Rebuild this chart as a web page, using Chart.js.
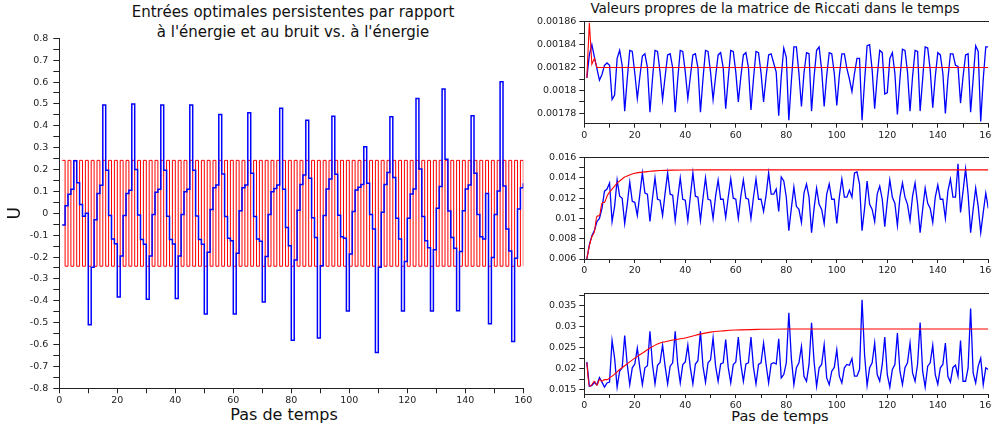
<!DOCTYPE html>
<html lang="fr">
<head>
<meta charset="utf-8">
<title>Entrées optimales et valeurs propres de Riccati</title>
<script src="https://cdn.jsdelivr.net/npm/chart.js@4.4.1/dist/chart.umd.min.js"></script>
<style>
  html, body { margin: 0; padding: 0; background: #fff; overflow: hidden; }
  body { width: 992px; height: 430px; position: relative; font-family: "DejaVu Sans", sans-serif; color: #111; }
  canvas { position: absolute; }
  .texte { position: absolute; text-align: center; white-space: nowrap; }
</style>
</head>
<body>
<div class="texte" style="left:93px; width:400px; top:2px; font-size:15px; line-height:20px;">Entrées optimales persistentes par rapport<br>à l'énergie et au bruit vs. à l'énergie</div>
<div class="texte" style="left:545px; width:460px; top:0px; font-size:13.5px; line-height:17px;">Valeurs propres de la matrice de Riccati dans le temps</div>
<div class="texte" style="left:184px; width:200px; top:405px; font-size:16px; line-height:20px;">Pas de temps</div>
<div class="texte" style="left:680px; width:200px; top:407px; font-size:14.5px; line-height:18px;">Pas de temps</div>

<canvas id="graphe-entrees" width="540" height="430" style="left:0; top:0;"></canvas>
<canvas id="graphe-haut" width="480" height="145" style="left:530px; top:0;"></canvas>
<canvas id="graphe-milieu" width="480" height="135" style="left:530px; top:145px;"></canvas>
<canvas id="graphe-bas" width="480" height="150" style="left:530px; top:280px;"></canvas>

<script>
// pas de temps 1..160
const pas = Array.from({ length: 160 }, (_, i) => i + 1);

// entrée optimale (énergie et bruit) - bleu
const entreeBruit = [
  -0.053, 0.035, 0.087, 0.11, 0.24, 0.14, 0.04, -0.014, 0.0, -0.51,
  -0.247, -0.03, 0.09, 0.128, 0.495, 0.197, -0.01, -0.117, -0.139, -0.383,
  -0.195, -0.01, 0.09, 0.105, 0.5, 0.2, -0.008, -0.12, -0.142, -0.393,
  -0.195, -0.005, 0.096, 0.11, 0.495, 0.197, -0.014, -0.12, -0.14, -0.39,
  -0.195, -0.005, 0.098, 0.11, 0.495, 0.197, -0.012, -0.12, -0.142, -0.46,
  -0.178, 0.017, 0.117, 0.129, 0.452, 0.18, -0.015, -0.114, -0.125, -0.46,
  -0.183, 0.012, 0.117, 0.129, 0.46, 0.183, -0.015, -0.117, -0.128, -0.405,
  -0.198, -0.005, 0.099, 0.113, 0.129, 0.48, 0.11, -0.065, -0.148, -0.58,
  -0.213, 0.014, 0.132, 0.175, 0.425, 0.16, -0.02, -0.111, -0.57, -0.24,
  -0.01, 0.111, 0.157, 0.444, 0.178, -0.009, -0.107, -0.114, -0.447, -0.186,
  0.008, 0.107, 0.119, 0.132, 0.304, 0.137, -0.005, -0.072, -0.636, -0.247,
  0.005, 0.132, 0.186, 0.441, 0.164, -0.023, -0.117, -0.447, -0.22, -0.023,
  0.088, 0.111, 0.525, 0.202, -0.015, -0.126, -0.157, -0.447, -0.167, 0.023,
  0.122, 0.568, 0.247, 0.011, -0.111, -0.16, -0.446, -0.175, 0.012, 0.111,
  0.129, 0.446, 0.183, -0.005, -0.107, -0.117, 0.091, -0.505, -0.202, -0.005,
  0.102, 0.601, 0.125, -0.072, -0.172, -0.586, -0.205, 0.02, 0.117, 0.137
];

// entrée optimale (énergie seule) - rouge
const entreeEnergie = [
  0.242, -0.242, 0.242, -0.242, 0.242, -0.242, 0.242, -0.242, 0.242, -0.242, 0.242, -0.242, 0.242, -0.242, 0.242, -0.242, 0.242, -0.242, 0.242, -0.242,
  0.242, -0.242, 0.242, -0.242, 0.242, -0.242, 0.242, -0.242, 0.242, -0.242, 0.242, -0.242, 0.242, -0.242, 0.242, -0.242, 0.242, -0.242, 0.242, -0.242,
  0.242, -0.242, 0.242, -0.242, 0.242, -0.242, 0.242, -0.242, 0.242, -0.242, 0.242, -0.242, 0.242, -0.242, 0.242, -0.242, 0.242, -0.242, 0.242, -0.242,
  0.242, -0.242, 0.242, -0.242, 0.242, -0.242, 0.242, -0.242, 0.242, -0.242, 0.242, -0.242, 0.242, -0.242, 0.242, -0.242, 0.242, -0.242, 0.242, -0.242,
  0.242, -0.242, 0.242, -0.242, 0.242, -0.242, 0.242, -0.242, 0.242, -0.242, 0.242, -0.242, 0.242, -0.242, 0.242, -0.242, 0.242, -0.242, 0.242, -0.242,
  0.242, -0.242, 0.242, -0.242, 0.242, -0.242, 0.242, -0.242, 0.242, -0.242, 0.242, -0.242, 0.242, -0.242, 0.242, -0.242, 0.242, -0.242, 0.242, -0.242,
  0.242, -0.242, 0.242, -0.242, 0.242, -0.242, 0.242, -0.242, 0.242, -0.242, 0.242, -0.242, 0.242, -0.242, 0.242, -0.242, 0.242, -0.242, 0.242, -0.242,
  0.242, -0.242, 0.242, -0.242, 0.242, -0.242, 0.242, -0.242, 0.242, -0.242, 0.242, -0.242, 0.242, -0.242, 0.242, -0.242, 0.242, -0.242, 0.242, -0.242
];

// valeurs propres de Riccati, panneau du haut
const hautBleu = [
  0.001811, 0.001831, 0.00184, 0.001829, 0.001819, 0.001809, 0.001814, 0.001822, 0.001824, 0.001822,
  0.001792, 0.001796, 0.001828, 0.001835, 0.001822, 0.001782, 0.00181, 0.001835, 0.001834, 0.001815,
  0.001793, 0.001812, 0.00183, 0.001832, 0.00182, 0.001781, 0.00181, 0.001835, 0.001834, 0.001816,
  0.001792, 0.001812, 0.001831, 0.001832, 0.00182, 0.001781, 0.00181, 0.001835, 0.001834, 0.001816,
  0.001793, 0.001812, 0.001831, 0.001832, 0.00182, 0.001781, 0.00181, 0.001835, 0.001834, 0.001816,
  0.001792, 0.001812, 0.001831, 0.001833, 0.00182, 0.001784, 0.00181, 0.001835, 0.001834, 0.001816,
  0.00179, 0.001812, 0.001831, 0.001833, 0.00182, 0.001783, 0.00181, 0.001834, 0.001833, 0.001815,
  0.00179, 0.001812, 0.001831, 0.001832, 0.001824, 0.001816, 0.001778, 0.001812, 0.001837, 0.001829,
  0.001774, 0.001808, 0.001838, 0.001838, 0.001815, 0.001786, 0.001815, 0.001833, 0.001832, 0.001782,
  0.001812, 0.001835, 0.001838, 0.001818, 0.001786, 0.001813, 0.001833, 0.001832, 0.001815, 0.001787,
  0.001813, 0.001832, 0.001832, 0.001819, 0.00181, 0.001799, 0.001815, 0.001828, 0.001828, 0.001774,
  0.001808, 0.001839, 0.00184, 0.001818, 0.001784, 0.001812, 0.001835, 0.001833, 0.001797, 0.001798,
  0.001828, 0.001833, 0.001815, 0.001779, 0.00181, 0.001836, 0.001835, 0.001816, 0.001782, 0.001812,
  0.001835, 0.001834, 0.001782, 0.00181, 0.001838, 0.001837, 0.001818, 0.001785, 0.001812, 0.001833,
  0.001831, 0.001815, 0.00178, 0.00181, 0.001832, 0.001832, 0.001822, 0.001821, 0.001789, 0.001812,
  0.001831, 0.001832, 0.001781, 0.00181, 0.001839, 0.001834, 0.001773, 0.00181, 0.001838, 0.001838
];
const hautRougePas = [1, 2, 3, 4, 5, 6, 160];
const hautRouge = [0.001811, 0.001859, 0.001823, 0.001828, 0.00182, 0.00182, 0.00182];

// panneau du milieu
const milieuBleu = [
  0.0060, 0.0074, 0.0083, 0.0088, 0.0097, 0.0100, 0.0110, 0.0127, 0.0129, 0.0135,
  0.0097, 0.0112, 0.0138, 0.0122, 0.0120, 0.0095, 0.0114, 0.0136, 0.0117, 0.0116,
  0.0103, 0.0124, 0.0145, 0.0125, 0.0124, 0.0097, 0.0120, 0.0140, 0.0119, 0.0118,
  0.0103, 0.0125, 0.0145, 0.0124, 0.0123, 0.0098, 0.0120, 0.0140, 0.0119, 0.0118,
  0.0098, 0.0122, 0.0145, 0.0122, 0.0121, 0.0098, 0.0120, 0.0140, 0.0119, 0.0118,
  0.0100, 0.0122, 0.0138, 0.0119, 0.0119, 0.0101, 0.0121, 0.0139, 0.0120, 0.0119,
  0.0100, 0.0122, 0.0138, 0.0120, 0.0119, 0.0100, 0.0121, 0.0139, 0.0119, 0.0119,
  0.0107, 0.0123, 0.0145, 0.0124, 0.0124, 0.0129, 0.0107, 0.0141, 0.0137, 0.0121,
  0.0088, 0.0110, 0.0131, 0.0112, 0.0109, 0.0096, 0.0125, 0.0134, 0.0121, 0.0086,
  0.0110, 0.0130, 0.0114, 0.0109, 0.0095, 0.0124, 0.0134, 0.0119, 0.0119, 0.0095,
  0.0121, 0.0139, 0.0121, 0.0121, 0.0128, 0.0121, 0.0145, 0.0146, 0.0134, 0.0088,
  0.0110, 0.0137, 0.0114, 0.0109, 0.0097, 0.0124, 0.0132, 0.0119, 0.0092, 0.0117,
  0.0138, 0.0121, 0.0115, 0.0093, 0.0121, 0.0135, 0.0121, 0.0114, 0.0098, 0.0122,
  0.0135, 0.0114, 0.0086, 0.0109, 0.0130, 0.0115, 0.0110, 0.0096, 0.0121, 0.0133,
  0.0119, 0.0119, 0.0100, 0.0127, 0.0139, 0.0121, 0.0121, 0.0154, 0.0106, 0.0127,
  0.0149, 0.0124, 0.0086, 0.0109, 0.0130, 0.0112, 0.0086, 0.0106, 0.0125, 0.0110
];
const milieuRougePas = [1, 2, 3, 4, 5, 6, 7, 8, 9, 10, 11, 12, 13, 14, 15, 16, 17, 18, 19, 20, 22, 24, 26, 28, 30, 35, 40, 45, 50, 160];
const milieuRouge = [0.0060, 0.0073, 0.0082, 0.0087, 0.0102, 0.0103, 0.0115, 0.0116, 0.0122, 0.0126,
  0.0129, 0.0132, 0.0135, 0.0137, 0.0139, 0.0141, 0.0142, 0.0143, 0.0144, 0.01447,
  0.01455, 0.0146, 0.01466, 0.0147, 0.01473, 0.01477, 0.01479, 0.0148, 0.0148, 0.0148];

// panneau du bas
const basBleu = [
  0.0216, 0.0158, 0.0160, 0.0167, 0.0162, 0.0179, 0.0168, 0.0156, 0.0166, 0.0168,
  0.0267, 0.0225, 0.0156, 0.0194, 0.0202, 0.0279, 0.0210, 0.0162, 0.0202, 0.0211,
  0.0249, 0.0202, 0.0162, 0.0202, 0.0207, 0.0289, 0.0210, 0.0164, 0.0208, 0.0215,
  0.0256, 0.0206, 0.0164, 0.0206, 0.0214, 0.0289, 0.0210, 0.0166, 0.0210, 0.0216,
  0.0256, 0.0202, 0.0164, 0.0211, 0.0219, 0.0289, 0.0206, 0.0168, 0.0214, 0.0221,
  0.0273, 0.0206, 0.0170, 0.0211, 0.0214, 0.0269, 0.0203, 0.0166, 0.0210, 0.0216,
  0.0275, 0.0210, 0.0170, 0.0211, 0.0214, 0.0275, 0.0203, 0.0164, 0.0210, 0.0214,
  0.0261, 0.0210, 0.0166, 0.0211, 0.0214, 0.0211, 0.0271, 0.0178, 0.0186, 0.0214,
  0.0333, 0.0225, 0.0162, 0.0202, 0.0214, 0.0253, 0.0182, 0.0170, 0.0210, 0.0309,
  0.0217, 0.0158, 0.0202, 0.0210, 0.0257, 0.0178, 0.0162, 0.0194, 0.0203, 0.0245,
  0.0182, 0.0166, 0.0202, 0.0210, 0.0208, 0.0224, 0.0182, 0.0182, 0.0198, 0.0364,
  0.0233, 0.0160, 0.0202, 0.0214, 0.0261, 0.0186, 0.0170, 0.0210, 0.0275, 0.0186,
  0.0156, 0.0198, 0.0210, 0.0285, 0.0194, 0.0162, 0.0202, 0.0214, 0.0261, 0.0190,
  0.0170, 0.0211, 0.0310, 0.0194, 0.0156, 0.0206, 0.0214, 0.0256, 0.0186, 0.0163,
  0.0202, 0.0210, 0.0261, 0.0182, 0.0168, 0.0203, 0.0208, 0.0182, 0.0267, 0.0170,
  0.0170, 0.0202, 0.0343, 0.0190, 0.0166, 0.0206, 0.0225, 0.0162, 0.0202, 0.0198
];
const basRougePas = [1, 2, 3, 4, 5, 6, 7, 8, 9, 10, 12, 14, 16, 18, 20, 22, 24, 26, 28, 30, 32, 35, 38, 40, 45, 50, 55, 60, 70, 80, 160];
const basRouge = [0.0214, 0.0158, 0.0162, 0.0170, 0.0160, 0.0174, 0.0170, 0.0174, 0.0174, 0.0178,
  0.0187, 0.0198, 0.0207, 0.0216, 0.0225, 0.0233, 0.0241, 0.0249, 0.0256, 0.0261,
  0.0264, 0.0268, 0.0271, 0.0273, 0.0281, 0.0287, 0.0290, 0.0292, 0.02937, 0.02945, 0.02945];

Chart.defaults.font.family = "'DejaVu Sans', sans-serif";
Chart.defaults.color = "#222";

const BLEU = "#0000ff";
const ROUGE = "#ff0000";
const TRAIT = "#222";

function points(xs, ys) {
  return ys.map((y, i) => ({ x: xs[i], y: y }));
}

function estMultiple(v, pasEtiquette) {
  const q = v / pasEtiquette;
  return Math.abs(q - Math.round(q)) < 1e-6;
}

function formatNombre(v) {
  return parseFloat(v.toFixed(6)).toString();
}

function axeX(hauteur, longueurTrait) {
  return {
    type: "linear", min: 0, max: 160,
    grid: { display: true, drawOnChartArea: false, drawTicks: true, tickLength: longueurTrait, color: TRAIT, tickColor: TRAIT },
    border: { display: true, color: TRAIT, width: 1 },
    ticks: {
      stepSize: 10, includeBounds: false, autoSkip: false, maxRotation: 0, padding: 2,
      font: { size: 9.5 }, color: TRAIT,
      callback: v => estMultiple(v, 20) ? formatNombre(v) : ""
    },
    afterFit: s => { s.height = hauteur; }
  };
}

function axeY(min, max, pasTrait, pasEtiquette, largeur, longueurTrait, ecart) {
  return {
    type: "linear", min: min, max: max,
    grid: { display: true, drawOnChartArea: false, drawTicks: true, tickLength: longueurTrait, color: TRAIT, tickColor: TRAIT },
    border: { display: true, color: TRAIT, width: 1 },
    ticks: {
      stepSize: pasTrait, includeBounds: false, autoSkip: false, padding: ecart,
      font: { size: 9.5 }, color: TRAIT,
      callback: v => estMultiple(v, pasEtiquette) ? formatNombre(v) : ""
    },
    afterFit: s => { s.width = largeur; }
  };
}

// trait du haut des panneaux de droite
function cadreHaut() {
  return {
    type: "linear", position: "top", min: 0, max: 160,
    grid: { display: false },
    border: { display: true, color: TRAIT, width: 1 },
    ticks: { display: false },
    afterFit: s => { s.height = 0; }
  };
}

const optionsCommunes = {
  responsive: false,
  animation: false,
  devicePixelRatio: 1,
  plugins: { legend: { display: false }, tooltip: { enabled: false } }
};

// graphique de gauche
const axeYGauche = axeY(-0.8, 0.8, 0.05, 0.1, 59.3, 6, 5);
axeYGauche.title = { display: true, text: "U", font: { size: 17 }, color: "#111", padding: { top: 5, bottom: 0 } };

new Chart(document.getElementById("graphe-entrees"), {
  type: "line",
  data: {
    datasets: [
      { label: "énergie et bruit", data: points(pas, entreeBruit), borderColor: BLEU, borderWidth: 1.5, stepped: true, pointRadius: 0, fill: false },
      { label: "énergie", data: points(pas, entreeEnergie), borderColor: ROUGE, borderWidth: 1, stepped: true, pointRadius: 0, fill: false }
    ]
  },
  options: {
    ...optionsCommunes,
    layout: { padding: { top: 38.3, right: 16.7, left: 0, bottom: 0 } },
    scales: { x: axeX(41.7, 5), y: axeYGauche }
  }
});

// panneaux de droite
function panneau(id, bleu, rougePas, rouge, yMin, yMax, pasTrait, pasEtiquette, hautPad, basAxe, lisse) {
  new Chart(document.getElementById(id), {
    type: "line",
    data: {
      datasets: [
        { label: "rouge", data: points(rougePas, rouge), borderColor: ROUGE, borderWidth: 1.1, pointRadius: 0, fill: false,
          cubicInterpolationMode: lisse ? "monotone" : "default", tension: 0 },
        { label: "bleu", data: points(pas, bleu), borderColor: BLEU, borderWidth: 1.3, pointRadius: 0, fill: false }
      ]
    },
    options: {
      ...optionsCommunes,
      layout: { padding: { top: hautPad, right: 21.7, left: 0, bottom: 0 } },
      scales: {
        x: axeX(basAxe, 4),
        xHaut: cadreHaut(),
        y: axeY(yMin, yMax, pasTrait, pasEtiquette, 54.3, 5, 3)
      }
    }
  });
}

panneau("graphe-haut", hautBleu, hautRougePas, hautRouge, 0.001771, 0.00186, 0.00001, 0.00002, 21.7, 21.3, false);
panneau("graphe-milieu", milieuBleu, milieuRougePas, milieuRouge, 0.006, 0.016, 0.001, 0.002, 12.7, 21, true);
panneau("graphe-bas", basBleu, basRougePas, basRouge, 0.01397, 0.038, 0.0025, 0.005, 13, 36, true);
</script>
</body>
</html>
